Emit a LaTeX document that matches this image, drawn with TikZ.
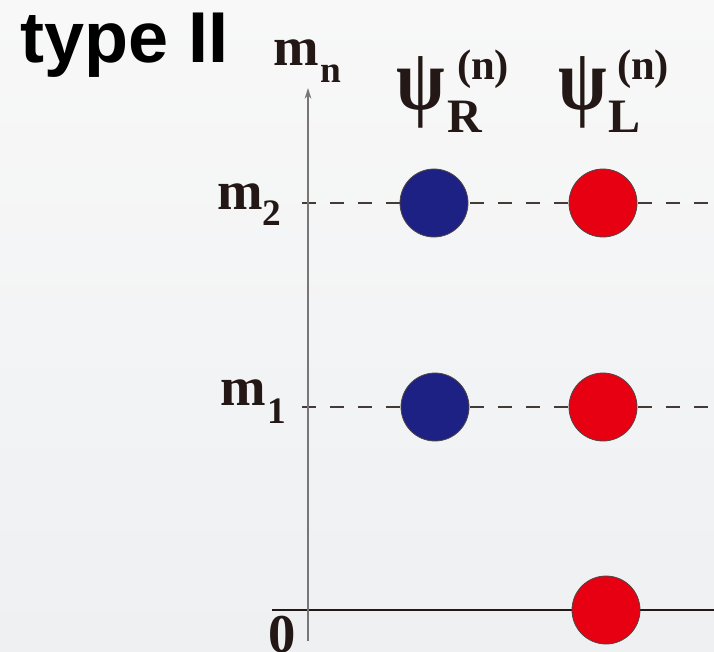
\documentclass[tikz,border=0pt]{standalone}
\usepackage{fontspec}
\setmainfont{Liberation Serif}
\newfontfamily\titlefont{Liberation Sans}
\usetikzlibrary{arrows.meta}
\definecolor{inkc}{HTML}{231815}
\definecolor{dotblue}{HTML}{1D2184}
\definecolor{dotred}{HTML}{E60012}
\definecolor{bgtop}{HTML}{F8F8F8}
\definecolor{bgbot}{HTML}{EEF0F2}
\definecolor{axisgray}{HTML}{7A7676}
\begin{document}
\begin{tikzpicture}[x=0.75pt,y=-0.75pt,
  lbl/.style={inner sep=0,outer sep=0,anchor=base west,text=inkc,font=\bfseries\fontsize{41}{41}\selectfont},
  sub/.style={inner sep=0,outer sep=0,anchor=base west,text=inkc,font=\bfseries\fontsize{28}{28}\selectfont},
  psilbl/.style={inner sep=0,outer sep=0,anchor=base west,text=inkc,font=\bfseries\fontsize{44}{44}\selectfont},
  capsub/.style={inner sep=0,outer sep=0,anchor=base west,text=inkc,font=\bfseries\fontsize{36}{36}\selectfont},
  supn/.style={inner sep=0,outer sep=0,anchor=base west,text=inkc,font=\bfseries\fontsize{32}{32}\selectfont},
  dot/.style={circle,minimum size=51pt,inner sep=0,draw=inkc!80,line width=0.6pt},
  level/.style={draw=inkc!85,line width=0.9pt,dash pattern=on 10.5pt off 10.5pt},
]
\fill[top color=bgtop,bottom color=bgbot] (0,0) rectangle (714,651);
\useasboundingbox (0,0) rectangle (714,651);
\clip (0,0) rectangle (714,651);

% level lines
\coordinate (l2a) at (302,203); \coordinate (l2b) at (714,203);
\coordinate (l1a) at (302,407); \coordinate (l1b) at (714,407);
\coordinate (z0a) at (272,610); \coordinate (z0b) at (714,610);
\draw[level] (l2a) -- (l2b);
\draw[level] (l1a) -- (l1b);
\draw[inkc,line width=1.5pt] (z0a) -- (z0b);

% axis
\coordinate (axbot) at (308,641);
\coordinate (axtop) at (308,88);
\draw[axisgray,line width=1.1pt,-{Stealth[length=8pt,width=5pt]}] (axbot) -- (axtop);

% dots
\node[dot,fill=dotblue] (r2) at (434,203) {};
\node[dot,fill=dotred]  (L2) at (603,203) {};
\node[dot,fill=dotblue] (r1) at (435,407) {};
\node[dot,fill=dotred]  (L1) at (603,407) {};
\node[dot,fill=dotred]  (L0) at (606,610) {};

% title
\node[anchor=base west,inner sep=0,text=black,font=\titlefont\bfseries\fontsize{54}{54}\selectfont] (title) at (20,62) {type II};

% axis label
\node[lbl] (mn) at (273,65) {m};
\node[sub] (mnsub) at (320,82) {n};

% column labels
\node[psilbl] (psiR) at (396,109) {\scalebox{1.2}[1.5]{ψ}};
\node[capsub] (psiRsub) at (447,132) {R};
\node[supn] (psiRsup) at (457,79) {(n)};
\node[psilbl] (psiL) at (558,109) {\scalebox{1.2}[1.5]{ψ}};
\node[capsub] (psiLsub) at (608,132) {L};
\node[supn] (psiLsup) at (617,79) {(n)};

% level labels
\node[lbl] (m2) at (217,209) {m};
\node[sub] (m2sub) at (262,225) {2};
\node[lbl] (m1) at (220,405) {m};
\node[sub] (m1sub) at (267,423) {1};
\node[lbl] (zero) at (268,652) {0};
\end{tikzpicture}
\end{document}
